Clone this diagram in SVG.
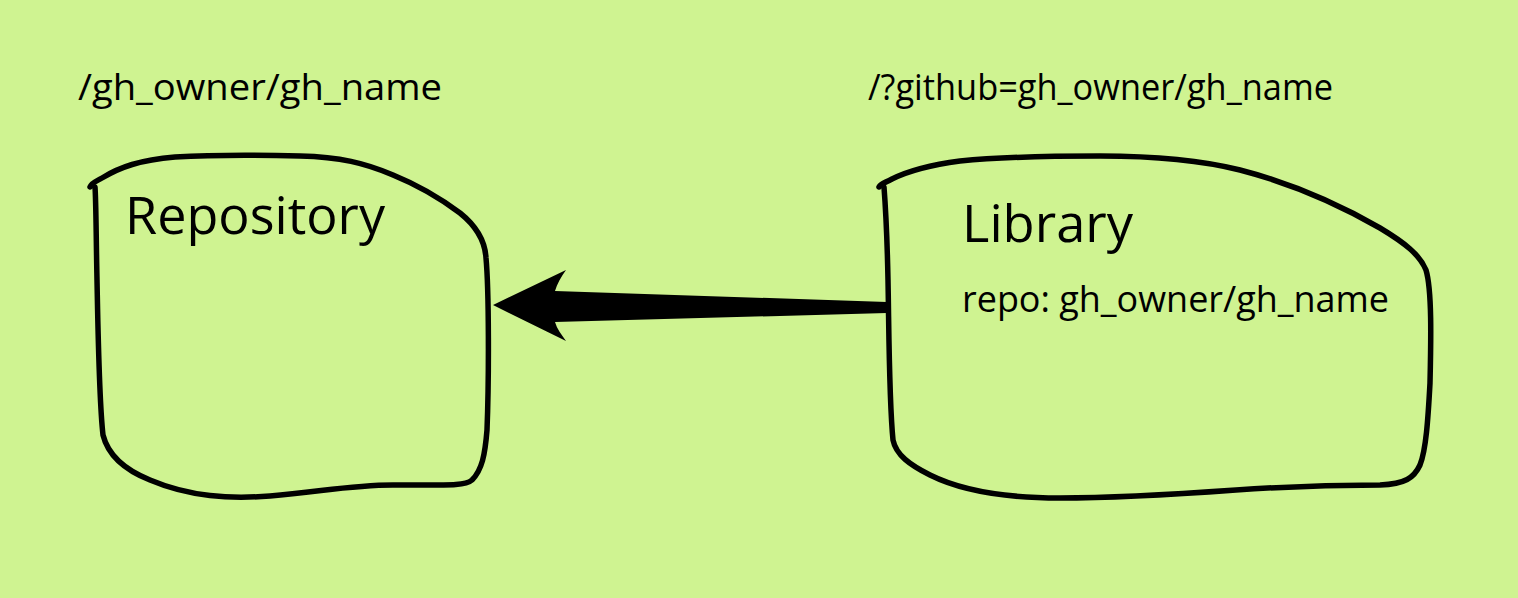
<svg xmlns="http://www.w3.org/2000/svg" width="1518" height="598" viewBox="0 0 1518 598">
<style>
.shape{fill:none;stroke:#000;stroke-width:5.5;stroke-linecap:round;stroke-linejoin:round}
.t{font-family:"Open Sans","Noto Sans",sans-serif;fill:#000}
</style>
<rect width="1518" height="598" fill="#cff391"/>
<g id="label-left"><text class="t" x="78" y="100" font-size="36" textLength="364" lengthAdjust="spacingAndGlyphs">/gh_owner/gh_name</text></g>
<g id="label-right"><text class="t" x="868" y="100" font-size="36" textLength="465" lengthAdjust="spacingAndGlyphs">/?github=gh_owner/gh_name</text></g>
<g id="node-repository">
<path class="shape" d="M90,187 C92,182 97,181 102,178 C120,167 140,160 175,157 C210,155 260,155 300,156 C340,157 365,163 393,175 C420,186 440,198 460,213 C475,225 485,240 486,258 C489,290 489,380 487,430 C485,455 482,470 472,480 C465,486 450,485 393,485 C350,485 320,492 270,496 C230,499 190,497 150,480 C125,470 108,455 103,435 C99,400 98,330 97,280 C96,230 96,200 95,187"/>
<text class="t" x="125" y="234" font-size="51" textLength="260" lengthAdjust="spacingAndGlyphs">Repository</text>
</g>
<g id="node-library">
<path class="shape" d="M879,187 C881,183 885,183 892,179 C910,170 930,165 960,161 C1000,157 1050,156 1100,156 C1150,156 1200,160 1240,170 C1290,183 1340,205 1380,228 C1405,243 1420,255 1426,270 C1432,290 1431,340 1430,383 C1428,420 1426,450 1420,465 C1414,478 1405,484 1380,485 C1330,485 1280,487 1236,490 C1180,494 1120,498 1060,498 C1000,498 960,490 930,475 C910,465 896,455 893,440 C889,400 889,330 888,280 C887,230 885,200 884,187"/>
<text class="t" x="962" y="242" font-size="51" textLength="171" lengthAdjust="spacingAndGlyphs">Library</text>
<text class="t" x="962" y="312" font-size="36" textLength="427" lengthAdjust="spacingAndGlyphs">repo: gh_owner/gh_name</text>
</g>
<g id="connectors">
<path d="M493,305 L566,270 C561,277 557,284 555,291 L887,302 L887,313 L555,322 C557,329 561,334 566,341 Z" fill="#000"/>
</g>
</svg>
